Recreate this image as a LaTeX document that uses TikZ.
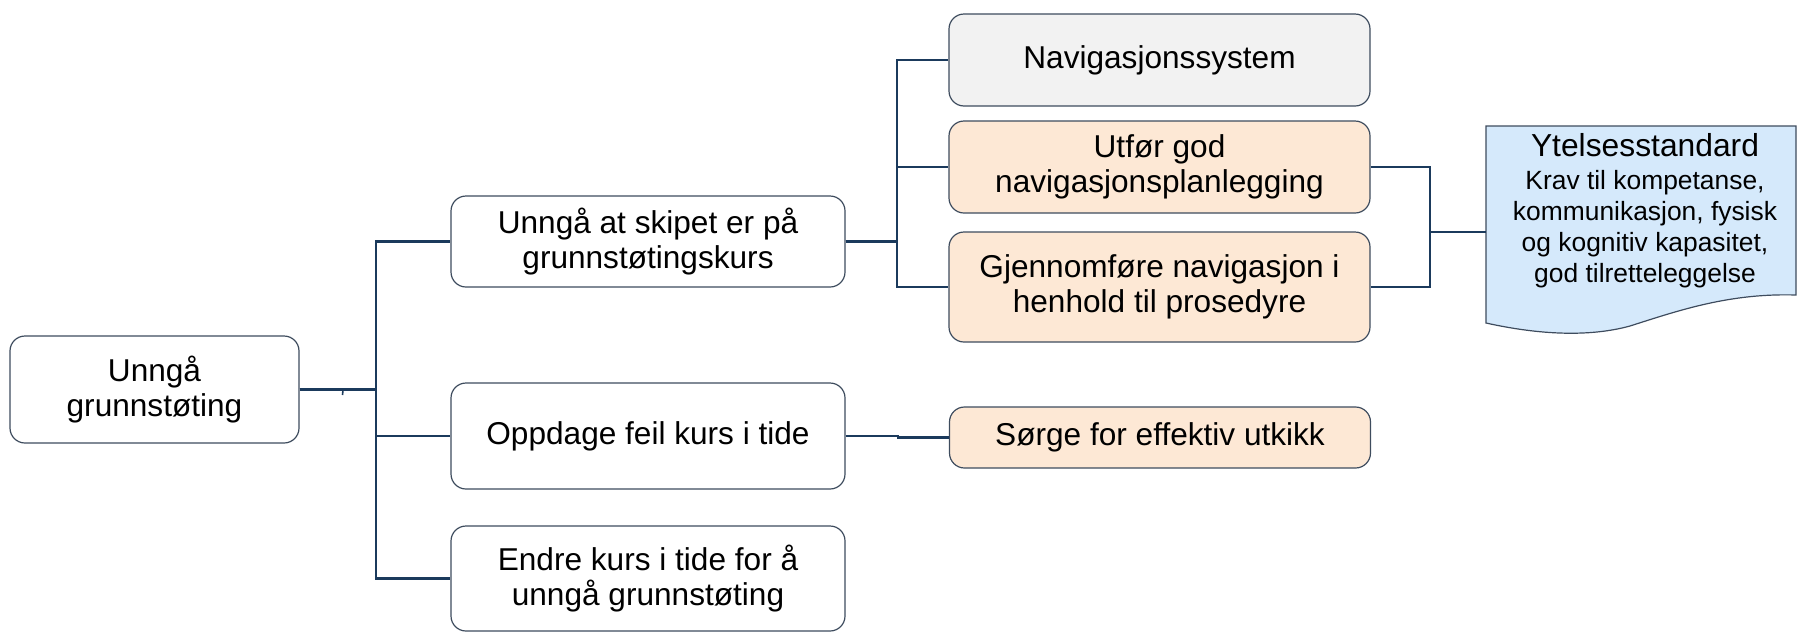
\documentclass[tikz,border=0pt]{standalone}
\usepackage{fontspec}
\setmainfont{Liberation Sans}
\definecolor{boxline}{HTML}{3E4C5E}
\definecolor{conn}{HTML}{1B3A5C}
\definecolor{peach}{HTML}{FDE8D5}
\definecolor{lgray}{HTML}{F2F2F2}
\definecolor{docblue}{HTML}{D5E9FB}
\begin{document}
\begin{tikzpicture}[x=0.5pt,y=-0.5pt,
  box/.style={draw=boxline,line width=0.6pt,rounded corners=7.5pt,fill=white,
    align=center,inner sep=2pt,font=\fontsize{15.8}{17.8}\selectfont},
  peachbox/.style={box,fill=peach},
  graybox/.style={box,fill=lgray},
  link/.style={draw=conn,line width=1.1pt}]
\useasboundingbox (0,0) rectangle (1798,633);

% level 0
\node[box,minimum width=144.5pt,minimum height=53.5pt] (root) at (154.5,389.5) {Unngå\\grunnstøting};

% level 1
\node[box,minimum width=197pt,minimum height=45.5pt] (m1) at (648,241.5) {Unngå at skipet er på\\grunnstøtingskurs};
\node[box,minimum width=197pt,minimum height=53pt] (m2) at (648,436) {Oppdage feil kurs i tide};
\node[box,minimum width=197pt,minimum height=52.5pt] (m3) at (648,578.5) {Endre kurs i tide for å\\unngå grunnstøting};

% level 2
\node[graybox,minimum width=210.5pt,minimum height=46pt] (n1) at (1159.5,60) {Navigasjonssystem};
\node[peachbox,minimum width=210.5pt,minimum height=46pt] (n2) at (1159.5,167) {Utfør god\\navigasjonsplanlegging};
\node[peachbox,minimum width=210.5pt,minimum height=55pt] (n3) at (1159.5,287) {Gjennomføre navigasjon i\\henhold til prosedyre};
\node[peachbox,minimum width=210.5pt,minimum height=30.5pt] (s1) at (1160,437.5) {Sørge for effektiv utkikk};

% document shape
\path[fill=docblue,draw=boxline,line width=0.6pt]
  (1486,126) -- (1796,126) -- (1796,295)
  .. controls (1730,293) and (1680,310) .. (1630,326)
  .. controls (1590,337) and (1540,335) .. (1486,323) -- cycle;
\coordinate (docL) at (1486,232);
\node[align=center,anchor=north,inner sep=0pt,font=\fontsize{13.2}{15.5}\selectfont] (doc) at (1645,133)
  {{\fontsize{15.9}{17}\selectfont Ytelsesstandard}\\[1pt]
   Krav til kompetanse,\\
   kommunikasjon, fysisk\\
   og kognitiv kapasitet,\\
   god tilretteleggelse};

% connectors
\draw[link] (root.east) -- ++(76,0) |- (m1.west);
\draw[link] (root.east) -- ++(76,0) |- (m2.west);
\draw[link] (root.east) -- ++(76,0) |- (m3.west);
\draw[link,line width=0.8pt] (343,390) -- (342.5,395);

\draw[link] (m1.east) -- ++(51,0) |- (n1.west);
\draw[link] (m1.east) -- ++(51,0) |- (n2.west);
\draw[link] (m1.east) -- ++(51,0) |- (n3.west);

\draw[link] (m2.east) -- ++(52,0) |- (s1.west);

\draw[link] (n2.east) -- ++(59,0) |- (docL);
\draw[link] (n3.east) -- ++(59,0) |- (docL);
\end{tikzpicture}
\end{document}
